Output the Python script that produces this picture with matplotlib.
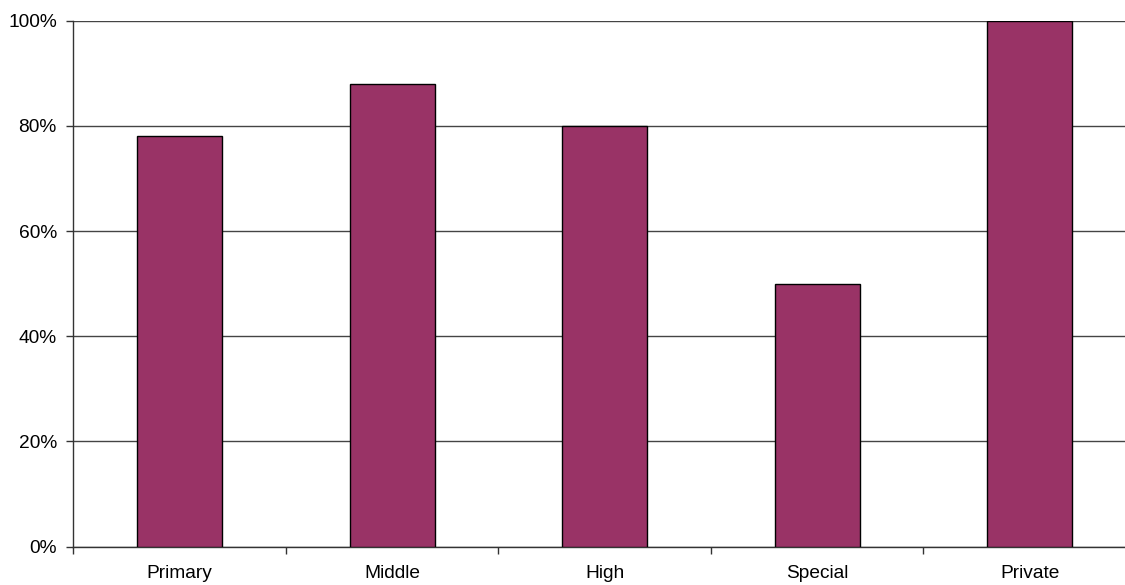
import numpy as np
import matplotlib.pyplot as plt
from matplotlib.ticker import FixedLocator, PercentFormatter

plt.rcParams["font.family"] = ["Liberation Sans", "DejaVu Sans"]
plt.rcParams["font.size"] = 13.8

# Data
categories = ["Primary", "Middle", "High", "Special", "Private"]
values = [78, 88, 80, 50, 100]

fig = plt.figure(figsize=(11.25, 5.85), dpi=100)
# plot area runs past the right edge of the picture, like the original
ax = fig.add_axes([73.5 / 1125, 38.5 / 585, 1062.5 / 1125, 525.8 / 585])

x = np.arange(len(categories))
ax.bar(x, values, width=0.4, color="#993366", edgecolor="black", linewidth=1, zorder=3)

ax.set_xlim(-0.5, len(categories) - 0.5)
ax.set_ylim(0, 100)

# y axis
ax.set_yticks([0, 20, 40, 60, 80, 100])
ax.yaxis.set_major_formatter(PercentFormatter(decimals=0))
ax.tick_params(axis="y", direction="out", length=5, width=1, color="#333333", pad=7)
ax.grid(axis="y", color="#444444", linewidth=1, zorder=0)

# x axis: ticks between categories, labels at centres
ax.xaxis.set_major_locator(FixedLocator(np.arange(-0.5, len(categories), 1.0)))
ax.set_xticklabels([])
ax.xaxis.set_minor_locator(FixedLocator(x))
ax.set_xticklabels(categories, minor=True)
ax.tick_params(axis="x", which="major", direction="out", length=5, width=1, color="#333333")
ax.tick_params(axis="x", which="minor", length=0, pad=13)

for side in ["top", "right"]:
    ax.spines[side].set_visible(False)
for side in ["left", "bottom"]:
    ax.spines[side].set_color("#333333")
    ax.spines[side].set_linewidth(1)

fig.savefig("out.png", dpi=100)
